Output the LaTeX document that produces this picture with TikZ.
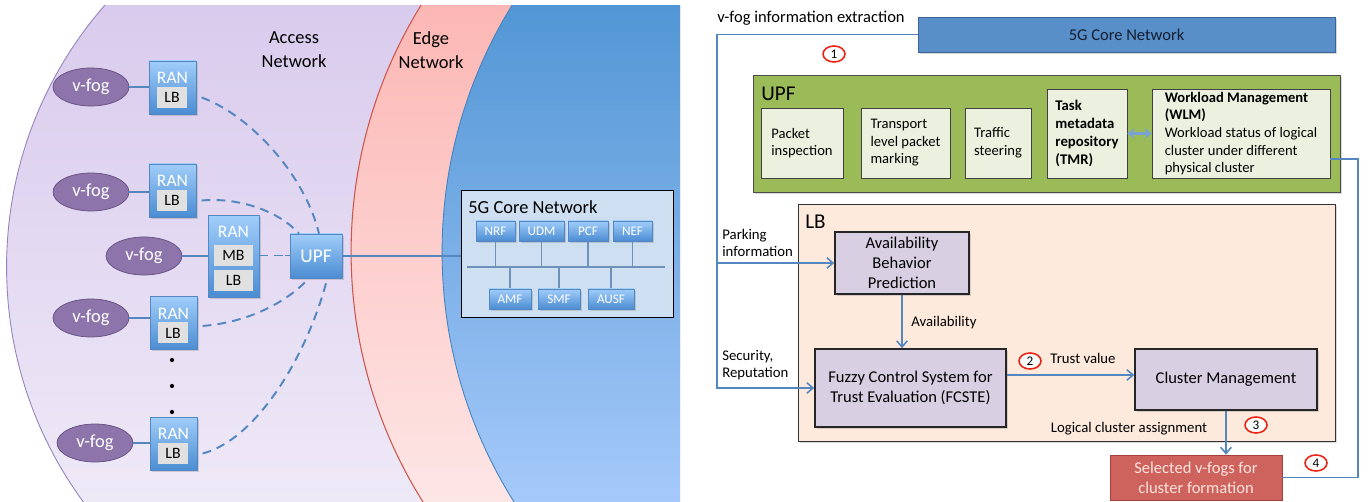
\documentclass[tikz,border=0pt]{standalone}
\usepackage{fontspec}
\setmainfont{Carlito}
\usetikzlibrary{arrows.meta, shapes.geometric, shadows, positioning}
\definecolor{accesstop}{RGB}{217,203,237}
\definecolor{accessbot}{RGB}{238,233,247}
\definecolor{accessline}{RGB}{150,130,190}
\definecolor{edgetop}{RGB}{252,183,180}
\definecolor{edgebot}{RGB}{253,230,230}
\definecolor{edgeline}{RGB}{205,85,75}
\definecolor{coretop}{RGB}{82,150,213}
\definecolor{corebot}{RGB}{165,201,250}
\definecolor{coreline}{RGB}{70,130,190}
\definecolor{fogfill}{RGB}{141,116,170}
\definecolor{fogline}{RGB}{100,78,130}
\definecolor{rantop}{RGB}{160,205,250}
\definecolor{ranbot}{RGB}{75,140,210}
\definecolor{ranline}{RGB}{85,135,195}
\definecolor{boxgray}{RGB}{224,224,224}
\definecolor{linkblue}{RGB}{84,134,192}
\definecolor{busblue}{RGB}{110,145,185}
\definecolor{corebox}{RGB}{207,223,242}
\definecolor{banner}{RGB}{88,143,200}
\definecolor{bannerline}{RGB}{60,100,150}
\definecolor{bannertext}{RGB}{20,30,50}
\definecolor{upfgreen}{RGB}{155,187,89}
\definecolor{upfinner}{RGB}{235,241,222}
\definecolor{lbfill}{RGB}{253,234,220}
\definecolor{procfill}{RGB}{216,207,227}
\definecolor{selfill}{RGB}{206,98,93}
\definecolor{selline}{RGB}{165,65,60}
\definecolor{seltext}{RGB}{255,228,224}
\definecolor{stepred}{RGB}{235,35,20}
\definecolor{twowayblue}{RGB}{120,160,210}
\tikzset{
  shadowed/.style={drop shadow={opacity=0.3, shadow xshift=1pt, shadow yshift=-1pt}},
  vfog/.style={ellipse, draw=fogline, fill=fogfill, minimum width=1.52cm, minimum height=0.76cm,
    inner sep=0pt, text=white, font=\fontsize{10.5}{12}\selectfont},
  ran/.style={draw=ranline, top color=rantop, bottom color=ranbot, minimum width=0.94cm,
    minimum height=1.06cm, inner sep=0pt, shadowed},
  rantext/.style={text=white, inner sep=0pt, font=\fontsize{10}{12}\selectfont},
  inbox/.style={fill=boxgray, minimum width=0.6cm, minimum height=0.42cm, inner sep=0pt,
    font=\fontsize{9}{10}\selectfont},
  nf/.style={draw=ranline, top color=rantop, bottom color=ranbot, minimum height=0.4cm,
    inner sep=0pt, text=white, font=\fontsize{7.5}{9}\selectfont, shadowed},
  link/.style={draw=linkblue, line width=0.8pt},
  dashlink/.style={link, line width=1.1pt, dash pattern=on 5pt off 3.5pt},
  bus/.style={draw=busblue, line width=0.6pt},
  zonetext/.style={align=center, inner sep=0pt, font=\fontsize{10.5}{13.6}\selectfont},
  note/.style={align=left, inner sep=0pt, font=\fontsize{8.4}{9.8}\selectfont},
  upfpart/.style={draw=black!75, fill=upfinner, align=left, inner sep=0pt,
    font=\fontsize{8.3}{10}\selectfont},
  proc/.style={draw=black!85, fill=procfill, line width=0.9pt, align=center, inner sep=0pt,
    font=\fontsize{9.4}{11.3}\selectfont, shadowed},
  flow/.style={link, line width=0.9pt, -{Straight Barb[length=3.5pt, width=6pt]}},
  twoway/.style={draw=twowayblue, line width=1.8pt,
    {Stealth[length=4pt, width=6pt]}-{Stealth[length=4pt, width=6pt]}},
  stepmark/.style={ellipse, draw=stepred, fill=white, line width=0.9pt, minimum width=0.44cm,
    minimum height=0.32cm, inner sep=0pt, font=\fontsize{7.5}{8}\selectfont}
}
\begin{document}
\begin{tikzpicture}[x=0.02cm, y=-0.02cm]
  \useasboundingbox (0,0) rectangle (1369,502);

  % network zones
  \begin{scope}
    \clip (0,6) rectangle (680,502);
    \begin{scope}
      \clip (404.5,267) circle[radius=7.96cm];
      \shade[top color=accesstop, bottom color=accessbot] (0,6) rectangle (680,502);
    \end{scope}
    \draw[accessline, line width=0.5pt] (404.5,267) circle[radius=7.96cm];
    \begin{scope}
      \clip (821,252) circle[radius=9.4cm];
      \shade[top color=edgetop, bottom color=edgebot] (0,6) rectangle (680,502);
    \end{scope}
    \draw[edgeline, line width=0.6pt] (821,252) circle[radius=9.4cm];
    \begin{scope}
      \clip (912,252) circle[radius=9.4cm];
      \shade[top color=coretop, bottom color=corebot] (0,6) rectangle (680,502);
    \end{scope}
    \draw[coreline, line width=0.5pt] (912,252) circle[radius=9.4cm];
  \end{scope}

  \node[zonetext] at (294,50) {Access\\Network};
  \node[zonetext] at (431,50) {Edge\\Network};

  % v-fogs and their RAN boxes
  \foreach \i/\fx/\fy/\rx/\ry in {1/91/87/172.5/87.5, 2/91/192/172.5/190.5,
                                   4/91/318/173.5/323, 5/95/443/173.5/443.5}{
    \node[ran] (ran\i) at (\rx,\ry) {};
    \node[rantext] at (\rx,\ry-9.5) {RAN};
    \node[inbox] (lb\i) at (\rx-0.5,\ry+10) {LB};
    \node[vfog] (fog\i) at (\fx,\fy) {v-fog};
    \draw[link] (fog\i.east) -- (fog\i.east -| ran\i.west);
  }
  \node[ran, minimum width=1.02cm, minimum height=1.64cm] (ran3) at (233.5,256) {};
  \node[rantext] at (233.5,232) {RAN};
  \node[inbox, minimum width=0.78cm] (mb3) at (233.5,255.5) {MB};
  \node[inbox, minimum width=0.78cm] (lb3) at (233.5,280.5) {LB};
  \node[vfog] (fog3) at (144,256) {v-fog};
  \draw[link] (fog3.east) -- (fog3.east -| ran3.west);

  \foreach \y in {360,386,412}
    \fill (172,\y) circle[radius=1.2pt];

  \node[ran, minimum width=1.04cm, minimum height=0.88cm, rantext, font=\fontsize{11}{13}\selectfont]
    (upf) at (316,256) {UPF};

  \draw[dashlink] ([xshift=3pt]ran1.east |- lb1.east) .. controls (250,115) and (305,175) .. ([xshift=0.06cm]upf.north);
  \draw[dashlink] ([xshift=3pt]ran2.east |- lb2.east) .. controls (240,197) and (280,212) .. ([xshift=-0.34cm]upf.north);
  \draw[dashlink, dash pattern=on 5pt off 3.5pt on 5pt off 1pt] (ran3.east |- mb3.east) -- (upf.west |- mb3.east);
  \draw[dashlink] ([xshift=3pt, yshift=-0.06cm]ran4.east) .. controls (250,322) and (285,302) .. ([xshift=-0.22cm, yshift=-0.08cm]upf.south);
  \draw[dashlink] ([xshift=3pt]ran5.east |- lb5.east) .. controls (255,440) and (305,360) .. ([xshift=0.2cm, yshift=-0.1cm]upf.south);

  % 5G core with its functions
  \node[draw=black, fill=corebox, minimum width=4.24cm, minimum height=2.54cm, inner sep=0pt] (core) at (567,253.5) {};
  \node[anchor=west, inner sep=0pt, font=\fontsize{10.5}{12}\selectfont] at (468,207) {5G Core Network};
  \draw[link] (upf.east) -- (upf.east -| core.west);
  \coordinate (busL) at (467,267);
  \coordinate (busR) at (665,267);
  \draw[bus] (busL) -- (busR);
  \foreach \n/\x/\w in {NRF/495.5/0.78, UDM/541.5/0.9, PCF/588/0.8, NEF/632.5/0.78}{
    \draw[bus] (\x,241) -- (\x,267);
    \node[nf, minimum width=\w cm] (\n) at (\x,231) {\n};
  }
  \foreach \n/\x/\w in {AMF/510/0.84, SMF/559/0.84, AUSF/611/0.92}{
    \draw[bus] (\x,267) -- (\x,289);
    \node[nf, minimum width=\w cm] (\n) at (\x,299) {\n};
  }

  % information flow
  \node[anchor=west, inner sep=0pt, font=\fontsize{9.4}{11}\selectfont] (title) at (717,18) {v-fog information extraction};
  \node[draw=bannerline, fill=banner, minimum width=8.34cm, minimum height=0.7cm, inner sep=0pt,
    text=bannertext, font=\fontsize{9.4}{11}\selectfont, shadowed] (corebar) at (1126.5,34.5) {5G Core Network};
  \node[stepmark] (s1) at (834,54) {1};

  \node[draw=black!70, fill=upfgreen, minimum width=11.74cm, minimum height=2.34cm, shadowed] (upfbox) at (1046.5,133.5) {};
  \node[anchor=west, inner sep=0pt, font=\fontsize{12}{14}\selectfont] at (761,94) {UPF};
  \node[upfpart, minimum width=1.64cm, minimum height=1.4cm] (pkt) at (802,143) {Packet\\inspection};
  \node[upfpart, minimum width=1.78cm, minimum height=1.4cm] (mark) at (905.5,143) {Transport\\level packet\\marking};
  \node[upfpart, minimum width=1.32cm, minimum height=1.4cm] (steer) at (998,143) {Traffic\\steering};
  \node[upfpart, minimum width=1.6cm, minimum height=1.78cm, font={\fontsize{8.4}{10.2}\selectfont\bfseries}]
    (tmr) at (1087,133.5) {Task\\metadata\\repository\\(TMR)};
  \node[upfpart, minimum width=3.56cm, minimum height=1.78cm] (wlm) at (1241,133.5)
    {\textbf{Workload Management}\\\textbf{(WLM)}\\Workload status of logical\\cluster under different\\physical cluster};
  \draw[twoway] (tmr.east) -- (wlm.west);

  \node[draw=black!80, fill=lbfill, minimum width=10.74cm, minimum height=4.74cm, shadowed] (lbbox) at (1066.5,322.5) {};
  \node[anchor=west, inner sep=0pt, font=\fontsize{12}{14}\selectfont] at (805,222) {LB};
  \node[proc, minimum width=2.68cm, minimum height=1.24cm] (abp) at (902,263) {Availability\\Behavior\\Prediction};
  \node[proc, minimum width=3.82cm, minimum height=1.56cm] (fcste) at (910.5,388) {Fuzzy Control System for\\Trust Evaluation (FCSTE)};
  \node[proc, minimum width=3.64cm, minimum height=1.22cm] (clm) at (1226,379.5) {Cluster Management};
  \node[draw=selline, fill=selfill, text=seltext, minimum width=3.44cm, minimum height=0.9cm, inner sep=0pt,
    align=center, font=\fontsize{9.4}{11.3}\selectfont] (sel) at (1196,477.5) {Selected v-fogs for\\cluster formation};

  \coordinate (feed) at (717,34.5);
  \coordinate (back) at (1358,159);
  \draw[flow] (corebar.west) -- (feed) |- (fcste.west);
  \draw[flow] (feed |- abp.west) -- (abp.west);
  \draw[flow] (abp.south) -- (abp.south |- fcste.north);
  \draw[flow] ([yshift=0.26cm]fcste.east) -- ([yshift=0.26cm]fcste.east -| clm.west);
  \draw[flow] (clm.south) -- (clm.south |- sel.north);
  \draw[link, line width=0.9pt] (sel.east) -| (back) -- (back -| wlm.east);

  \node[note, anchor=west] at (722,243) {Parking\\information};
  \node[note, anchor=west] at (722,365) {Security,\\Reputation};
  \node[note, anchor=west] at (911,323) {Availability};
  \node[note] at (1083,358) {Trust value};
  \node[note] at (1129,429) {Logical cluster assignment};
  \node[stepmark] (s2) at (1030,361) {2};
  \node[stepmark] (s3) at (1256,425) {3};
  \node[stepmark] (s4) at (1316,463) {4};
\end{tikzpicture}
\end{document}
